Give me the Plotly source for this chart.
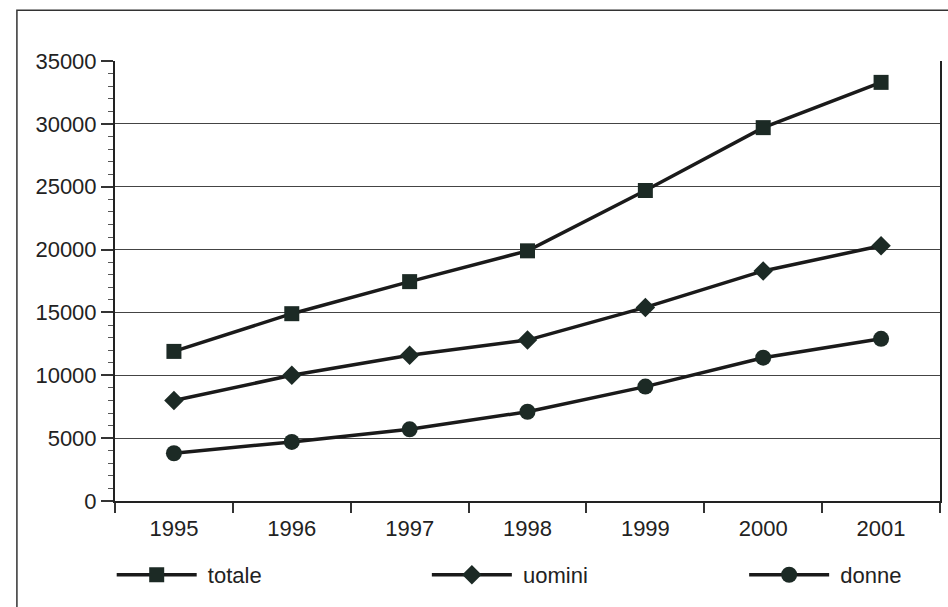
import plotly.graph_objects as go

# Serie annuali
anni = ["1995", "1996", "1997", "1998", "1999", "2000", "2001"]
totale = [11900, 14900, 17450, 19900, 24700, 29700, 33300]
uomini = [8000, 10000, 11600, 12800, 15400, 18300, 20300]
donne = [3800, 4700, 5700, 7100, 9100, 11400, 12900]

LINE = "#1a1a1a"
MARK = "#1c2a25"
FONT = "Arial, Liberation Sans, sans-serif"
FS = 22

fig = go.Figure()
series = [
    ("totale", totale, "square", 15, "legend"),
    ("uomini", uomini, "diamond", 15, "legend2"),
    ("donne", donne, "circle", 16, "legend3"),
]
for name, vals, sym, size, leg in series:
    fig.add_trace(go.Scatter(
        x=anni, y=vals, name="\u00a0" + name, mode="lines+markers",
        legend=leg,
        line=dict(color=LINE, width=3.5),
        marker=dict(symbol=sym, size=size, color=MARK,
                    line=dict(width=0)),
    ))


def legend_box(xpos):
    return dict(
        orientation="h", x=xpos, xanchor="left", y=-0.168, yanchor="middle",
        itemwidth=80, font=dict(family=FONT, size=FS, color="#222"),
        bgcolor="rgba(0,0,0,0)", itemclick=False, itemdoubleclick=False,
    )


fig.update_layout(
    width=948, height=607,
    margin=dict(l=115, r=6, t=61, b=106),
    paper_bgcolor="white", plot_bgcolor="white",
    font=dict(family=FONT, size=FS, color="#222"),
    showlegend=True,
    legend=legend_box(-0.004),
    legend2=legend_box(0.378),
    legend3=legend_box(0.7626),
    xaxis=dict(
        type="category", range=[-0.5, len(anni) - 0.5],
        tickson="boundaries", ticks="outside", ticklen=10,
        tickwidth=1.5, tickcolor="#333", showline=True, linecolor="#222",
        linewidth=2, showgrid=False, mirror=False, ticklabelstandoff=7,
        tickfont=dict(family=FONT, size=FS, color="#222"),
    ),
    yaxis=dict(
        range=[0, 35000], dtick=5000, tickformat="d", ticks="outside",
        ticklen=12, tickwidth=1.5, tickcolor="#333", showline=True,
        linecolor="#222", linewidth=2, mirror=True, showgrid=True,
        gridcolor="#444", gridwidth=1, zeroline=False,
        minor=dict(dtick=1000, ticks="outside", ticklen=5, tickcolor="#555",
                   tickwidth=1, showgrid=False),
        tickfont=dict(family=FONT, size=FS, color="#222"),
    ),
)

# Cornice esterna del riquadro
fig.add_shape(
    type="rect", xref="paper", yref="paper",
    x0=-0.1189, x1=1.02, y0=-0.3, y1=1.1151,
    line=dict(color="#333", width=1.5), fillcolor="rgba(0,0,0,0)",
    layer="below",
)

fig.write_html("out.html")
